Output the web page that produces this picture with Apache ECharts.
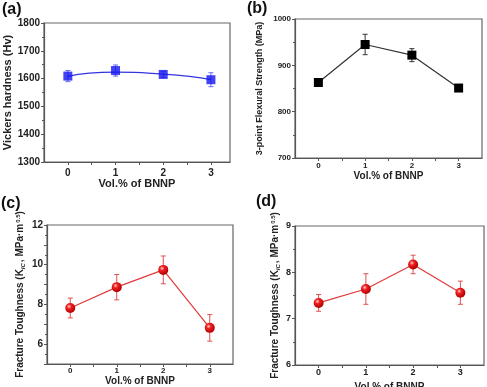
<!DOCTYPE html>
<html>
<head>
<meta charset="utf-8">
<script src="https://cdn.jsdelivr.net/npm/echarts@6/dist/echarts.min.js"></script>
<style>
html,body{margin:0;padding:0;background:#fff;}
#chart{width:487px;height:387px;}
</style>
</head>
<body>
<div id="chart"></div>
<script>
// ---- data ----
var volPct = [0, 1, 2, 3];
var xTickLabels = ['0', '1', '2', '3'];

var hardness = [1609, 1629, 1615, 1596];
var hardnessErr = [20, 20, 11, 25];
var hardnessFit = [1608, 1623, 1616, 1596];

var flexural = [863, 945, 922, 851];
var flexuralErr = [0, 22, 14, 0];

var toughnessC = [7.82, 8.87, 9.74, 6.82];
var toughnessCErr = [0.5, 0.64, 0.7, 0.67];

var toughnessD = [7.34, 7.64, 8.17, 7.56];
var toughnessDErr = [0.18, 0.33, 0.2, 0.25];

var panelLabels = ['(a)', '(b)', '(c)', '(d)'];
var xTitle = 'Vol.% of BNNP';

// ---- helpers ----
var FONT = '"Liberation Sans", Arial, sans-serif';

function pairs(vals) { return volPct.map(function (x, i) { return [x, vals[i]]; }); }
function errData(vals, errs) {
  return volPct.map(function (x, i) { return [x, vals[i] - errs[i], vals[i] + errs[i]]; });
}
function errSeries(idx, vals, errs, color, capW) {
  return {
    type: 'custom', xAxisIndex: idx, yAxisIndex: idx, z: 1, silent: true,
    data: errData(vals, errs),
    renderItem: function (params, api) {
      var x = api.value(0), lo = api.value(1), hi = api.value(2);
      if (hi - lo <= 0) return null;
      var a = api.coord([x, lo]), b = api.coord([x, hi]);
      var st = { stroke: color, lineWidth: 1 };
      return {
        type: 'group', children: [
          { type: 'line', shape: { x1: a[0], y1: a[1], x2: b[0], y2: b[1] }, style: st },
          { type: 'line', shape: { x1: a[0] - capW, y1: a[1], x2: a[0] + capW, y2: a[1] }, style: st },
          { type: 'line', shape: { x1: b[0] - capW, y1: b[1], x2: b[0] + capW, y2: b[1] }, style: st }
        ]
      };
    }
  };
}
function xAxis(idx, max, labelSize, labelMargin, nameSize, nameGap) {
  return {
    type: 'value', gridIndex: idx, min: -0.5, max: max, interval: 0.5,
    name: xTitle, nameLocation: 'middle', nameGap: nameGap,
    nameTextStyle: { fontFamily: FONT, fontWeight: 'bold', fontSize: nameSize, color: '#222' },
    axisLine: { show: true, onZero: false, lineStyle: { color: '#555', width: 1.2 } },
    axisTick: { show: true, inside: false, length: 3, lineStyle: { color: '#555' } },
    axisLabel: {
      fontFamily: FONT, fontWeight: 'bold', fontSize: labelSize, color: '#222', margin: labelMargin,
      showMinLabel: false, showMaxLabel: false,
      formatter: function (v) { return (Math.abs(v - Math.round(v)) < 1e-6 && v >= 0) ? xTickLabels[Math.round(v)] || '' : ''; }
    },
    splitLine: { show: false }
  };
}
function yAxis(idx, min, max, interval, name, nameSize, nameGap, labelSize, formatter, richStyles) {
  var nts = { fontFamily: FONT, fontWeight: 'bold', fontSize: nameSize, color: '#222' };
  if (richStyles) nts.rich = richStyles;
  return {
    type: 'value', gridIndex: idx, min: min, max: max, interval: interval,
    name: name, nameLocation: 'middle', nameGap: nameGap, nameRotate: 90,
    nameTextStyle: nts,
    axisLine: { show: true, onZero: false, lineStyle: { color: '#555', width: 1.2 } },
    axisTick: { show: true, inside: false, length: 3, lineStyle: { color: '#555' } },
    minorTick: { show: true, splitNumber: 2, length: 2, lineStyle: { color: '#555' } },
    axisLabel: { fontFamily: FONT, fontWeight: 'bold', fontSize: labelSize, color: '#222', margin: 4,
      formatter: formatter || function (v) { return String(v); } },
    splitLine: { show: false }
  };
}

var sphere = {
  type: 'radial', x: 0.38, y: 0.35, r: 0.65,
  colorStops: [
    { offset: 0, color: '#ffd0d0' },
    { offset: 0.35, color: '#f02020' },
    { offset: 1, color: '#b00000' }
  ]
};

var richName = {
  a: { fontFamily: FONT, fontWeight: 'bold', fontSize: 10, color: '#222' },
  s: { fontFamily: FONT, fontWeight: 'bold', fontStyle: 'italic', fontSize: 6, color: '#222', verticalAlign: 'bottom', padding: [5, 1, 0, 0] },
  p: { fontFamily: FONT, fontWeight: 'bold', fontSize: 6, color: '#222', verticalAlign: 'top', padding: [0, 0, 5, 1] }
};
var toughName = '{a|Fracture Toughness (K}{s|IC}{a|, MPa·m}{p|0.5}{a|)}';

var chart = echarts.init(document.getElementById('chart'), null, { renderer: 'canvas' });

var gridStyle = { show: true, borderColor: '#666', borderWidth: 1.2, backgroundColor: 'transparent',
  containLabel: false, outerBoundsMode: 'none' };

var option = {
  animation: false,
  backgroundColor: '#fff',
  grid: [
    Object.assign({ left: 44, top: 23, width: 186, height: 139 }, gridStyle),
    Object.assign({ left: 295, top: 19, width: 187, height: 139 }, gridStyle),
    Object.assign({ left: 47, top: 225, width: 186, height: 139 }, gridStyle),
    Object.assign({ left: 295, top: 226, width: 189, height: 139 }, gridStyle)
  ],
  xAxis: [
    xAxis(0, 3.4, 10, 6, 11, 16),
    xAxis(1, 3.5, 8, 4, 10, 12),
    xAxis(2, 3.5, 8, 3, 10, 11),
    xAxis(3, 3.5, 9, 3, 10, 17)
  ],
  yAxis: [
    yAxis(0, 1300, 1800, 100, 'Vickers hardness (Hv)', 11, 25, 10),
    yAxis(1, 700, 1000, 100, '3-point Flexural Strength (MPa)', 9, 31, 8),
    yAxis(2, 5, 12, 1, toughName, 10, 21, 10,
      function (v) { return (v % 2 === 0) ? String(v) : ''; }, richName),
    yAxis(3, 6, 9, 1, toughName, 10, 14, 9, null, richName)
  ],
  series: [
    // (a)
    errSeries(0, hardness, hardnessErr, '#6a6af0', 2.5),
    { type: 'line', xAxisIndex: 0, yAxisIndex: 0, data: pairs(hardnessFit), smooth: 0.6, showSymbol: false,
      lineStyle: { color: '#3535e0', width: 1.2 }, z: 2, silent: true },
    { type: 'scatter', xAxisIndex: 0, yAxisIndex: 0, data: pairs(hardness), symbol: 'rect', symbolSize: 9,
      itemStyle: { color: '#1414f0' }, z: 3 },
    // (b)
    errSeries(1, flexural, flexuralErr, '#333', 2.5),
    { type: 'line', xAxisIndex: 1, yAxisIndex: 1, data: pairs(flexural), symbol: 'rect', symbolSize: 9,
      lineStyle: { color: '#333', width: 1.2 }, itemStyle: { color: '#000' }, z: 3 },
    // (c)
    errSeries(2, toughnessC, toughnessCErr, '#e05050', 2.5),
    { type: 'line', xAxisIndex: 2, yAxisIndex: 2, data: pairs(toughnessC), symbol: 'circle', symbolSize: 10,
      lineStyle: { color: '#e03a3a', width: 1.2 }, itemStyle: { color: sphere, borderWidth: 0 }, z: 3 },
    // (d)
    errSeries(3, toughnessD, toughnessDErr, '#e05050', 2.5),
    { type: 'line', xAxisIndex: 3, yAxisIndex: 3, data: pairs(toughnessD), symbol: 'circle', symbolSize: 10,
      lineStyle: { color: '#e03a3a', width: 1.2 }, itemStyle: { color: sphere, borderWidth: 0 }, z: 3 }
  ],
  graphic: [
    { type: 'text', left: 2, top: 2, style: { text: panelLabels[0], font: 'bold 16px ' + FONT, fill: '#111' } },
    { type: 'text', left: 247, top: 1, style: { text: panelLabels[1], font: 'bold 16px ' + FONT, fill: '#111' } },
    { type: 'text', left: 1, top: 196, style: { text: panelLabels[2], font: 'bold 16px ' + FONT, fill: '#111' } },
    { type: 'text', left: 256, top: 194, style: { text: panelLabels[3], font: 'bold 16px ' + FONT, fill: '#111' } }
  ]
};
chart.setOption(option);
</script>
</body>
</html>
